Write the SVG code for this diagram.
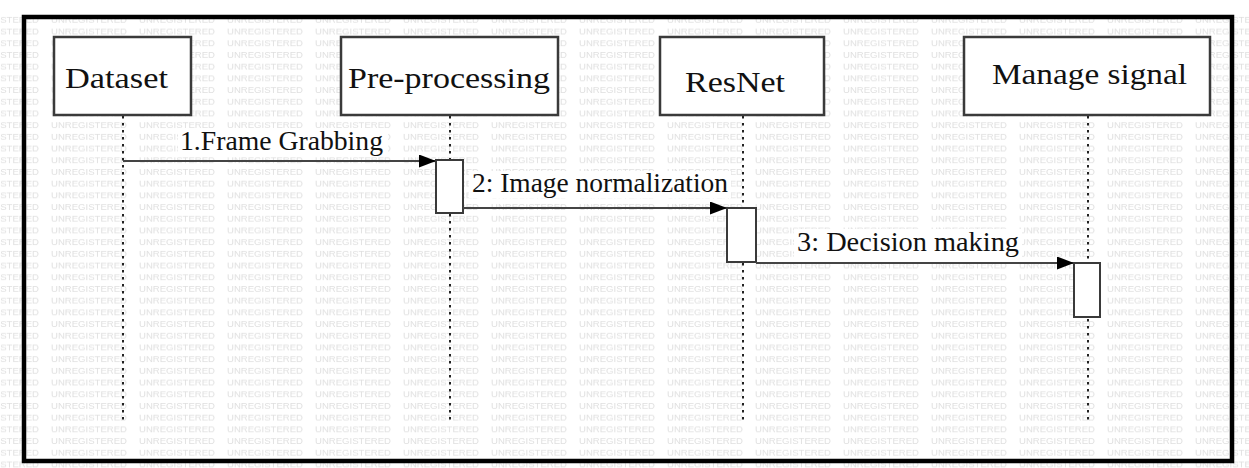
<svg xmlns="http://www.w3.org/2000/svg" width="1249" height="468" viewBox="0 0 1249 468">
  <defs>
    <pattern id="wm" patternUnits="userSpaceOnUse" x="50" y="14" width="88" height="11.7">
      <text x="1" y="9" font-family="'Liberation Sans', sans-serif" font-size="8" fill="#e0e0e0" textLength="76" lengthAdjust="spacingAndGlyphs">UNREGISTERED</text>
    </pattern>
    <marker id="arr" viewBox="0 0 17 13" refX="17" refY="6.5" markerWidth="17" markerHeight="13" markerUnits="userSpaceOnUse" orient="auto">
      <path d="M0,0 L17,6.5 L0,13 Z" fill="#000"/>
    </marker>
  </defs>
  <style>
    .node rect { fill: #fff; stroke: #3a3a3a; stroke-width: 2.5; }
    .life { stroke: #222; stroke-width: 2; stroke-dasharray: 2.5 4.5; fill: none; }
    .act { fill: #fff; stroke: #3a3a3a; stroke-width: 2; }
    .msg { stroke: #444; stroke-width: 2; fill: none; marker-end: url(#arr); }
    .bg { fill: #fff; }
  </style>
  <rect x="0" y="0" width="1249" height="468" fill="#fff"/>
  <rect x="0" y="12" width="1249" height="456" fill="url(#wm)"/>
  <rect id="frame" x="24" y="17" width="1208" height="444" fill="none" stroke="#000" stroke-width="4.5"/>

  <g id="lifelines">
    <line class="life" x1="123" y1="116" x2="123" y2="422"/>
    <line class="life" x1="450" y1="116" x2="450" y2="422"/>
    <line class="life" x1="743" y1="116" x2="743" y2="422"/>
    <line class="life" x1="1088" y1="116" x2="1088" y2="422"/>
  </g>

  <g id="node-dataset" class="node">
    <rect x="54" y="37" width="137" height="78"/>
    <text x="65" y="88" font-family="'Liberation Serif', 'Times New Roman', serif" font-size="30" fill="#111" textLength="103" lengthAdjust="spacingAndGlyphs">Dataset</text>
  </g>
  <g id="node-preprocessing" class="node">
    <rect x="341" y="37" width="217" height="78"/>
    <text x="348" y="88" font-family="'Liberation Serif', 'Times New Roman', serif" font-size="30" fill="#111" textLength="202" lengthAdjust="spacingAndGlyphs">Pre-processing</text>
  </g>
  <g id="node-resnet" class="node">
    <rect x="660" y="37" width="164" height="78"/>
    <text x="685" y="92" font-family="'Liberation Serif', 'Times New Roman', serif" font-size="30" fill="#111" textLength="100" lengthAdjust="spacingAndGlyphs">ResNet</text>
  </g>
  <g id="node-manage" class="node">
    <rect x="964" y="37" width="246" height="78"/>
    <text x="992" y="84" font-family="'Liberation Serif', 'Times New Roman', serif" font-size="30" fill="#111" textLength="195" lengthAdjust="spacingAndGlyphs">Manage signal</text>
  </g>

  <g id="activations">
    <rect class="act" x="436" y="160" width="27" height="53"/>
    <rect class="act" x="727" y="208" width="29" height="54"/>
    <rect class="act" x="1074" y="263" width="26" height="54"/>
  </g>

  <g id="connectors">
    <rect class="bg" x="178" y="128" width="210" height="28"/>
    <line class="msg" x1="123" y1="161" x2="436" y2="161"/>
    <text x="180" y="150" font-family="'Liberation Serif', 'Times New Roman', serif" font-size="27" fill="#111" textLength="203" lengthAdjust="spacingAndGlyphs">1.Frame Grabbing</text>
    <rect class="bg" x="469" y="171" width="262" height="27"/>
    <line class="msg" x1="463" y1="208" x2="727" y2="208"/>
    <text x="472" y="192" font-family="'Liberation Serif', 'Times New Roman', serif" font-size="27" fill="#111" textLength="256" lengthAdjust="spacingAndGlyphs">2: Image normalization</text>
    <rect class="bg" x="794" y="229" width="228" height="28"/>
    <line class="msg" x1="756" y1="263" x2="1074" y2="263"/>
    <text x="797" y="251" font-family="'Liberation Serif', 'Times New Roman', serif" font-size="27" fill="#111" textLength="222" lengthAdjust="spacingAndGlyphs">3: Decision making</text>
  </g>
</svg>
